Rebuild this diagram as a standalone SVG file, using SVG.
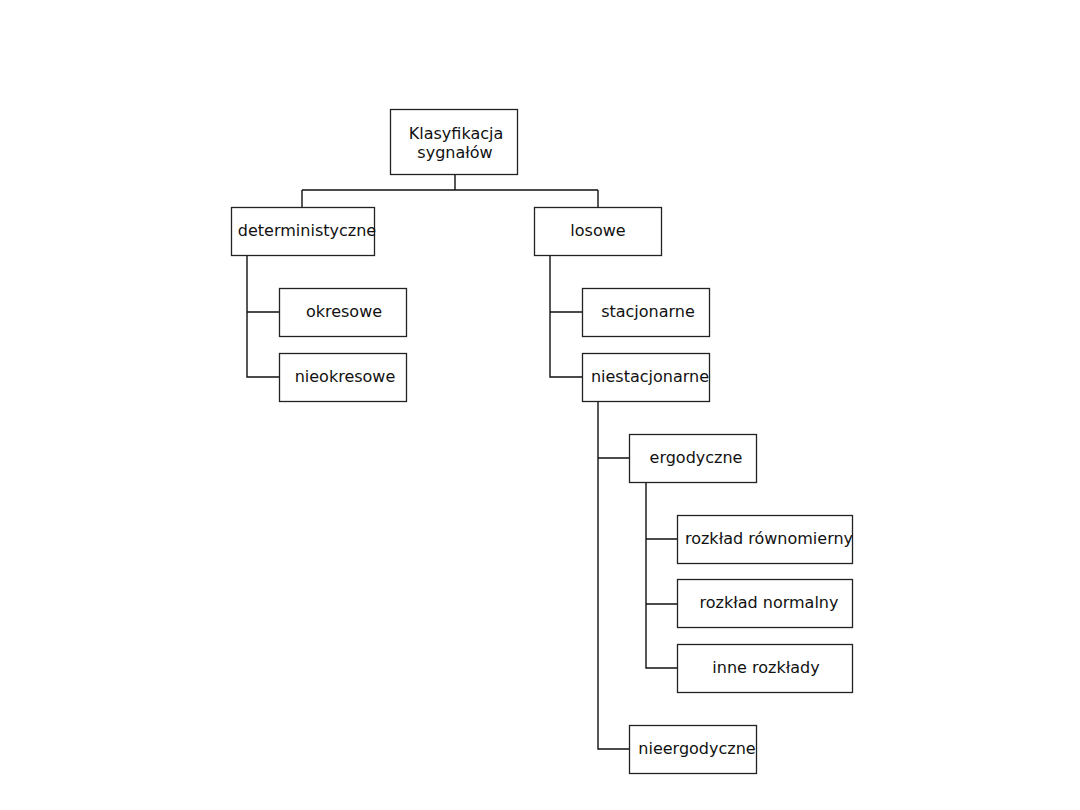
<svg xmlns="http://www.w3.org/2000/svg" width="1080" height="810" viewBox="0 0 1080 810">
<style>
.box{fill:#fff;stroke:#222;stroke-width:1.3}
.t{font-family:"DejaVu Sans",sans-serif;font-size:16px;fill:#111;text-anchor:middle}
.c{fill:none;stroke:#111;stroke-width:1.4}
</style>
<rect width="1080" height="810" fill="#fff"/>
<g id="connectors">
<path class="c" d="M455 174V190M302 190H598M302 190V207M598 190V207"/>
<path class="c" d="M247 255V377H279M247 312H279"/>
<path class="c" d="M550 255V377H582M550 312H582"/>
<path class="c" d="M598 401V749H629M598 458H629"/>
<path class="c" d="M646 482V668H677M646 539H677M646 604H677"/>
</g>
<g id="root"><rect class="box" x="390.5" y="109.5" width="127" height="65"/><text class="t" x="456" y="139">Klasyfikacja</text><text class="t" x="455" y="158">sygnałów</text></g>
<g id="deterministyczne"><rect class="box" x="231.5" y="207.5" width="143" height="48"/><text class="t" x="307" y="236">deterministyczne</text></g>
<g id="losowe"><rect class="box" x="534.5" y="207.5" width="127" height="48"/><text class="t" x="598" y="236">losowe</text></g>
<g id="okresowe"><rect class="box" x="279.5" y="288.5" width="127" height="48"/><text class="t" x="344" y="317">okresowe</text></g>
<g id="nieokresowe"><rect class="box" x="279.5" y="353.5" width="127" height="48"/><text class="t" x="345" y="382">nieokresowe</text></g>
<g id="stacjonarne"><rect class="box" x="582.5" y="288.5" width="127" height="48"/><text class="t" x="648" y="317">stacjonarne</text></g>
<g id="niestacjonarne"><rect class="box" x="582.5" y="353.5" width="127" height="48"/><text class="t" x="650" y="382">niestacjonarne</text></g>
<g id="ergodyczne"><rect class="box" x="629.5" y="434.5" width="127" height="48"/><text class="t" x="696" y="463">ergodyczne</text></g>
<g id="rownomierny"><rect class="box" x="677.5" y="515.5" width="175" height="48"/><text class="t" x="769" y="544">rozkład równomierny</text></g>
<g id="normalny"><rect class="box" x="677.5" y="579.5" width="175" height="48"/><text class="t" x="769" y="608">rozkład normalny</text></g>
<g id="inne"><rect class="box" x="677.5" y="644.5" width="175" height="48"/><text class="t" x="766" y="673">inne rozkłady</text></g>
<g id="nieergodyczne"><rect class="box" x="629.5" y="725.5" width="127" height="48"/><text class="t" x="697" y="754">nieergodyczne</text></g>
</svg>
